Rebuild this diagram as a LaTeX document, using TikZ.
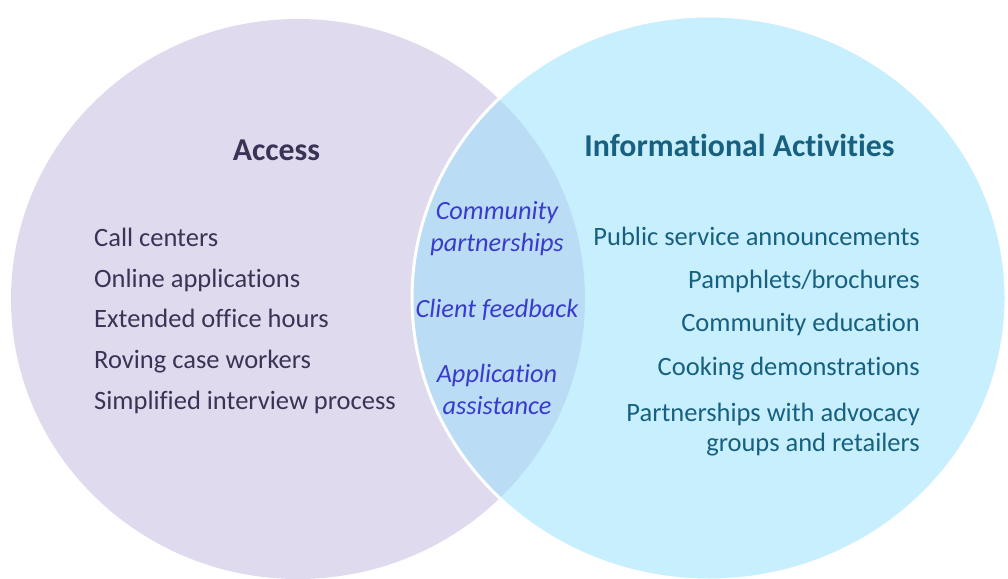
\documentclass[tikz,border=0pt]{standalone}
\usepackage{fontspec}
\setmainfont{Carlito}[Ligatures=NoCommon]
\usetikzlibrary{positioning}
\definecolor{accessfill}{HTML}{E0DAEE}
\definecolor{infofill}{HTML}{C8EFFE}
\definecolor{lensfill}{HTML}{BADDF5}
\definecolor{accesstext}{HTML}{3B3356}
\definecolor{infotext}{HTML}{17607F}
\definecolor{sharedtext}{HTML}{3A3ACC}
\begin{document}
\begin{tikzpicture}[x=1pt, y=-1pt,
  access item/.style={anchor=base west, inner sep=0pt, text=accesstext, font=\fontsize{26.5}{30}\selectfont},
  info item/.style={anchor=base east, inner sep=0pt, text=infotext, font=\fontsize{26.5}{30}\selectfont},
  shared item/.style={anchor=base, inner sep=0pt, text=sharedtext, font=\fontsize{26.3}{30}\selectfont\itshape},
  title node/.style={anchor=base, inner sep=0pt, font=\fontsize{31.8}{36}\selectfont\bfseries}]
\useasboundingbox (0,0) rectangle (1008,578);
% circles
\fill[accessfill] (298,299) ellipse [x radius=287, y radius=280];
\fill[infofill] (709,298) ellipse [x radius=297, y radius=282];
\begin{scope}
\clip (298,299) ellipse [x radius=287, y radius=280];
\fill[lensfill] (709,298) ellipse [x radius=297, y radius=282];
\end{scope}
\draw[white, line width=3pt] (709,298) ellipse [x radius=297, y radius=282];
% titles
\node[title node, text=accesstext] (access) at (276.5,160) {Access};
\node[title node, text=infotext] (info) at (739.5,156) {Informational Activities};
% access list
\node[access item] (a1) at (94,246) {Call centers};
\node[access item] (a2) at (94,287) {Online applications};
\node[access item] (a3) at (94,327) {Extended office hours};
\node[access item] (a4) at (94,368) {Roving case workers};
\node[access item] (a5) at (94,409) {Simplified interview process};
% shared list
\node[shared item] (s1a) at (497,219) {Community};
\node[shared item] (s1b) at (497,251) {partnerships};
\node[shared item] (s2) at (497,317) {Client feedback};
\node[shared item] (s3a) at (497,382) {Application};
\node[shared item] (s3b) at (497,414) {assistance};
% informational list
\node[info item] (i1) at (920,245) {Public service announcements};
\node[info item] (i2) at (920,288) {Pamphlets/brochures};
\node[info item] (i3) at (920,331) {Community education};
\node[info item] (i4) at (920,375) {Cooking demonstrations};
\node[info item] (i5a) at (920,421) {Partnerships with advocacy};
\node[info item] (i5b) at (920,451) {groups and retailers};
\end{tikzpicture}
\end{document}
